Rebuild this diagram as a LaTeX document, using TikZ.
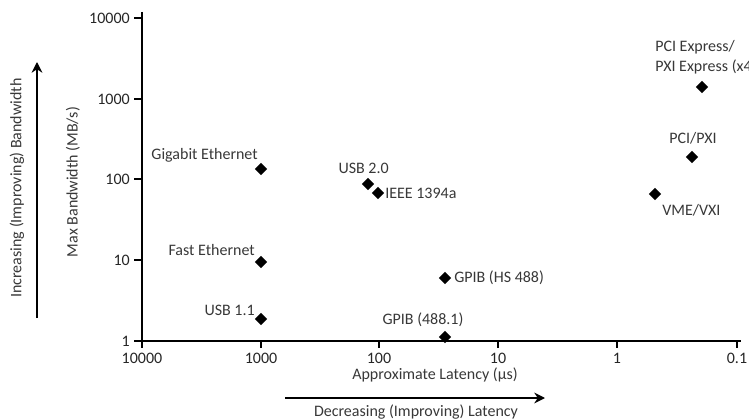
\documentclass[tikz,border=0pt]{standalone}
\usepackage{fontspec}
\setmainfont{Carlito}
\usetikzlibrary{shapes.geometric,arrows.meta}

\tikzset{
  mark dot/.style={diamond,fill=black,inner sep=0pt,minimum width=9.5pt,minimum height=9.5pt},
  lbl/.style={inner sep=0.75pt,font=\fontsize{12}{15}\selectfont,text=black!78},
  ticklbl/.style={inner sep=0.75pt,font=\fontsize{12}{15}\selectfont,text=black!85},
  axis line/.style={line width=2pt},
  trend/.style={line width=1.5pt,-{Stealth[length=8pt,width=8pt]}},
}

\begin{document}
\begin{tikzpicture}[x=0.75pt,y=0.75pt,yscale=-1,xscale=1]
\useasboundingbox (0,0) rectangle (749,420);
\clip (0,0) rectangle (749,420);

%Axes
\coordinate (origin) at (142,341);
\coordinate (ytop) at (142,12);
\coordinate (xend) at (741,341);
\draw [axis line] (ytop) -- (origin) -- (xend) ;

%Y ticks: bandwidth 1 .. 10000
\foreach \yy/\val in {341/1,260/10,179/100,99/1000,18/10000}{
  \draw [axis line] (134,\yy) -- (142,\yy) ;
  \draw (131,\yy) node [anchor=east,ticklbl] {\val};
}
%X ticks: latency 10000 .. 0.1
\foreach \xx/\val in {142/10000,261/1000,379/100,498/10,617/1,737/0.1}{
  \draw [axis line] (\xx,341) -- (\xx,348) ;
  \draw (\xx,358) node [ticklbl] {\val};
}

%Shape: Diamond marks
\node [mark dot] (gige) at (261,169) {};
\node [mark dot] (usbtwo) at (368,184) {};
\node [mark dot] (firewire) at (378,193) {};
\node [mark dot] (fasteth) at (261,262) {};
\node [mark dot] (usbone) at (261,319) {};
\node [mark dot] (gpibhs) at (445,278) {};
\node [mark dot] (gpib) at (445,337) {};
\node [mark dot] (vme) at (655,194) {};
\node [mark dot] (pci) at (692,157) {};
\node [mark dot] (pcie) at (702,87) {};

% Text Node
\draw (259,155) node (gige-lbl) [anchor=east,lbl] {Gigabit Ethernet};
% Text Node
\draw (390,168) node (usbtwo-lbl) [anchor=east,lbl] {USB 2.0};
% Text Node
\draw (384,193) node (firewire-lbl) [anchor=west,lbl] {IEEE 1394a};
% Text Node
\draw (256,250) node (fasteth-lbl) [anchor=east,lbl] {Fast Ethernet};
% Text Node
\draw (256,310) node (usbone-lbl) [anchor=east,lbl] {USB 1.1};
% Text Node
\draw (453,278) node (gpibhs-lbl) [anchor=west,lbl] {GPIB (HS 488)};
% Text Node
\draw (423,320) node (gpib-lbl) [lbl] {GPIB (488.1)};
% Text Node
\draw (661,210) node (vme-lbl) [anchor=west,lbl] {VME/VXI};
% Text Node
\draw (693,138) node (pci-lbl) [lbl] {PCI/PXI};
% Text Node
\draw (654,57) node (pcie-lbl) [anchor=west,align=left,lbl] {PCI Express/\\PXI Express (x4)};

% Axis titles
\draw (435,375) node (xtitle) [lbl] {Approximate Latency (µs)};
\draw (73,182) node (ytitle) [rotate=90,lbl] {Max Bandwidth (MB/s)};

%Trend arrows
\coordinate (lat-from) at (285,398);
\coordinate (lat-to) at (545,398);
\draw [trend] (lat-from) -- (lat-to) ;
\draw (416,412) node (lat-lbl) [lbl] {Decreasing (Improving) Latency};
\coordinate (bw-from) at (37,318);
\coordinate (bw-to) at (37,62);
\draw [trend] (bw-from) -- (bw-to) ;
\draw (17,188) node (bw-lbl) [rotate=90,lbl] {Increasing (Improving) Bandwidth};

\end{tikzpicture}
\end{document}
